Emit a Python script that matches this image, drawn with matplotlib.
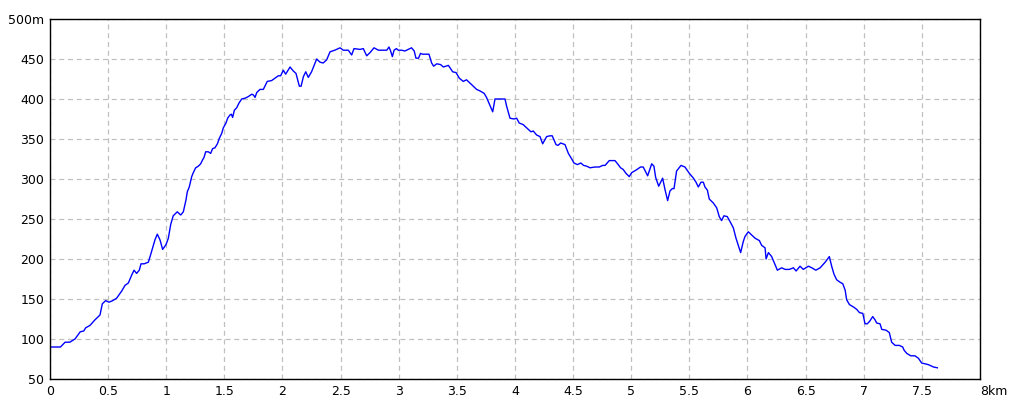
import matplotlib
matplotlib.use('Agg')
import matplotlib.pyplot as plt

dist_km = [0.0, 0.09, 0.13, 0.17, 0.215, 0.26, 0.29, 0.307, 0.344, 0.387, 0.43, 0.45, 0.479, 0.507,
           0.54, 0.573, 0.617, 0.645, 0.674, 0.703, 0.723, 0.745, 0.768, 0.783, 0.81, 0.846, 0.869,
           0.903, 0.923, 0.946, 0.969, 0.998, 1.018, 1.038, 1.06, 1.095, 1.124, 1.147, 1.153, 1.17,
           1.181, 1.198, 1.219, 1.233, 1.253, 1.276, 1.296, 1.313, 1.325, 1.339, 1.362, 1.382, 1.399,
           1.419, 1.44, 1.457, 1.477, 1.491, 1.514, 1.528, 1.548, 1.56, 1.571, 1.586, 1.606, 1.626,
           1.649, 1.678, 1.706, 1.735, 1.75, 1.764, 1.778, 1.806, 1.835, 1.869, 1.906, 1.935, 1.964,
           1.984, 2.007, 2.027, 2.065, 2.093, 2.116, 2.145, 2.16, 2.18, 2.2, 2.222, 2.25, 2.294,
           2.323, 2.35, 2.38, 2.409, 2.45, 2.495, 2.523, 2.566, 2.595, 2.615, 2.667, 2.695, 2.724,
           2.753, 2.787, 2.825, 2.868, 2.897, 2.916, 2.93, 2.945, 2.96, 2.98, 2.996, 3.025, 3.053,
           3.082, 3.11, 3.133, 3.148, 3.17, 3.187, 3.205, 3.224, 3.26, 3.283, 3.3, 3.327, 3.36,
           3.384, 3.427, 3.464, 3.493, 3.521, 3.555, 3.583, 3.627, 3.67, 3.7, 3.735, 3.755, 3.785,
           3.808, 3.828, 3.87, 3.914, 3.928, 3.957, 3.99, 4.014, 4.036, 4.07, 4.1, 4.137, 4.157,
           4.186, 4.215, 4.238, 4.272, 4.301, 4.32, 4.353, 4.37, 4.393, 4.43, 4.459, 4.488, 4.507,
           4.537, 4.566, 4.59, 4.617, 4.645, 4.688, 4.725, 4.754, 4.775, 4.811, 4.86, 4.888, 4.908,
           4.93, 4.955, 4.983, 5.004, 5.04, 5.08, 5.103, 5.141, 5.176, 5.195, 5.21, 5.236, 5.27,
           5.29, 5.313, 5.333, 5.353, 5.368, 5.39, 5.428, 5.462, 5.5, 5.535, 5.557, 5.577, 5.6,
           5.62, 5.634, 5.655, 5.671, 5.706, 5.735, 5.757, 5.777, 5.797, 5.826, 5.849, 5.878, 5.901,
           5.921, 5.941, 5.964, 5.978, 6.007, 6.036, 6.065, 6.102, 6.122, 6.151, 6.16, 6.18, 6.208,
           6.231, 6.257, 6.294, 6.323, 6.36, 6.395, 6.418, 6.452, 6.48, 6.524, 6.553, 6.588, 6.625,
           6.668, 6.704, 6.724, 6.744, 6.767, 6.796, 6.82, 6.84, 6.853, 6.877, 6.912, 6.94, 6.963,
           6.992, 7.011, 7.03, 7.05, 7.077, 7.097, 7.111, 7.14, 7.155, 7.192, 7.22, 7.24, 7.27,
           7.306, 7.335, 7.347, 7.37, 7.404, 7.44, 7.47, 7.498, 7.527, 7.555, 7.584, 7.6, 7.633]
altitud = [90, 90, 96, 96, 100, 109, 110, 114, 117, 124, 130, 144, 148, 146,
           148, 151, 160, 167, 170, 180, 186, 182, 186, 194, 194, 196, 207,
           224, 231, 224, 212, 218, 226, 243, 254, 259, 255, 259, 263, 274,
           284, 290, 303, 308, 314, 316, 319, 324, 327, 334, 334, 332, 338,
           339, 344, 351, 357, 364, 370, 376, 380, 381, 377, 386, 389, 395,
           400, 401, 403, 406, 405, 402, 408, 412, 412, 422, 423, 426, 429,
           429, 436, 431, 440, 435, 432, 416, 416, 428, 434, 427, 434, 450,
           446, 445, 449, 459, 461, 464, 461, 461, 455, 463, 462, 463, 454,
           458, 464, 461, 461, 461, 465, 460, 453, 461, 463, 461, 461, 460,
           462, 464, 460, 451, 451, 457, 456, 456, 456, 445, 441, 444, 443,
           440, 442, 434, 433, 426, 422, 424, 418, 412, 410, 407, 402, 392,
           384, 400, 400, 400, 391, 376, 375, 376, 370, 368, 364, 359, 360,
           355, 353, 344, 353, 354, 354, 343, 342, 345, 343, 332, 325, 320,
           318, 320, 317, 316, 314, 315, 315, 317, 317, 323, 323, 318, 314,
           312, 307, 303, 308, 311, 315, 315, 304, 319, 316, 302, 291, 301,
           287, 273, 285, 288, 288, 310, 317, 315, 307, 301, 296, 290, 296,
           296, 290, 286, 275, 270, 264, 253, 248, 254, 253, 247, 239, 226,
           217, 208, 222, 228, 234, 230, 226, 223, 217, 214, 200, 208, 203,
           195, 186, 189, 187, 187, 189, 185, 191, 187, 191, 189, 186, 189,
           196, 203, 191, 181, 174, 171, 169, 161, 149, 143, 140, 137, 133,
           132, 119, 119, 122, 128, 124, 120, 119, 112, 111, 108, 96, 92,
           92, 90, 86, 82, 79, 79, 76, 70, 69, 68, 66, 65, 64]

xticks = [0, 0.5, 1, 1.5, 2, 2.5, 3, 3.5, 4, 4.5, 5, 5.5, 6, 6.5, 7, 7.5, 8]
xlabels = ['0', '0.5', '1', '1.5', '2', '2.5', '3', '3.5', '4', '4.5', '5', '5.5', '6', '6.5',
           '7', '7.5', '8km']
yticks = [50, 100, 150, 200, 250, 300, 350, 400, 450, 500]
ylabels = ['50', '100', '150', '200', '250', '300', '350', '400', '450', '500m']

plt.rcParams['font.family'] = ['Liberation Sans Narrow', 'DejaVu Sans']

fig = plt.figure(figsize=(10.2, 4.08), dpi=100)
ax = fig.add_axes([50 / 1020, 29 / 408, 930 / 1020, 360 / 408])

ax.plot(dist_km, altitud, color='#0000ff', linewidth=1.0)

ax.set_xlim(0, 8)
ax.set_ylim(50, 500)
ax.set_xticks(xticks)
ax.set_xticklabels(xlabels, fontsize=9)
ax.set_yticks(yticks)
ax.set_yticklabels(ylabels, fontsize=9)
ax.get_xticklabels()[-1].set_horizontalalignment('left')
ax.tick_params(length=0, pad=4)
ax.grid(True, color='#c0c0c0', linestyle=(0, (4, 3)), linewidth=0.9)
ax.set_axisbelow(True)
for s in ax.spines.values():
    s.set_color('black')
    s.set_linewidth(1.0)

fig.savefig('out.png', dpi=100)
